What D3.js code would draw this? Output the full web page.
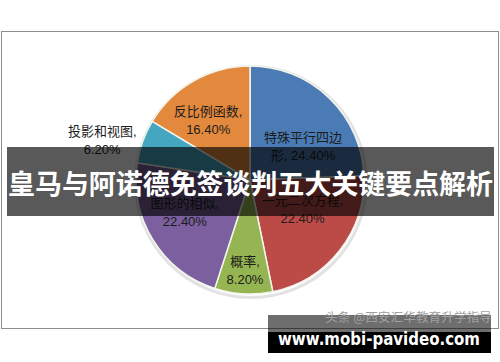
<!DOCTYPE html>
<html>
<head>
<meta charset="utf-8">
<script src="https://cdn.jsdelivr.net/npm/d3@7"></script>
<style>
  html, body { margin: 0; padding: 0; background: #fff; }
  svg { display: block; }
</style>
</head>
<body>
<svg id="chart"></svg>
<script>
;(() => {
  const categories = ["特殊平行四边形", "一元二次方程", "概率", "图形的相似", "投影和视图", "反比例函数"]
  const shares = [24.4, 22.4, 8.2, 22.4, 6.2, 16.4]
  const colors = ["#4a7bb4", "#bc4b48", "#95b552", "#7c5f9e", "#45a6c2", "#e3893d"]
  // label text split as Excel wrapped it
  const labelLines = [
    ["特殊平行四边", "形, 24.40%"],
    ["一元二次方程,", "22.40%"],
    ["概率,", "8.20%"],
    ["图形的相似,", "22.40%"],
    ["投影和视图,", "6.20%"],
    ["反比例函数,", "16.40%"],
  ]
  const title = "皇马与阿诺德免签谈判五大关键要点解析"
  const watermark = "头条 @西安汇华教育升学指导"
  const site = "www.mobi-pavideo.com"

  const W = 500, H = 362
  const cx = 250, cy = 180, R = 114

  const svg = d3.select("#chart").attr("width", W).attr("height", H)

  // chart frame
  svg.append("rect")
    .attr("x", 1.5).attr("y", 31.5)
    .attr("width", 497).attr("height", 297)
    .attr("fill", "#fff")
    .attr("stroke", "#8e8e8e")

  const pie = d3.pie().sort(null).value((d) => d)
  const arcs = pie(shares)
  const arc = d3.arc().innerRadius(0).outerRadius(R)
  const labelArc = d3.arc().innerRadius(R * 0.62).outerRadius(R * 0.62)
  const outerArc = d3.arc().innerRadius(R * 1.35).outerRadius(R * 1.35)

  const g = svg.append("g").attr("transform", "translate(" + cx + "," + cy + ")")

  // soft shadow round the pie
  g.append("circle")
    .attr("cx", 1).attr("cy", 2)
    .attr("r", R + 1.5)
    .attr("fill", "none")
    .attr("stroke", "#e2e2e2")
    .attr("stroke-width", 3)

  g.selectAll("path")
    .data(arcs)
    .enter()
    .append("path")
    .attr("d", arc)
    .attr("fill", (d, i) => colors[i])
    .attr("stroke", "#f4f4ee")
    .attr("stroke-width", 1.5)

  // small nudges so labels sit where Excel's best-fit put them
  const nudge = [[4, 17], [-3, -14], [-1, 20], [-5, -5], [-3, 13], [-7, 2]]

  const labels = g.selectAll(".lbl")
    .data(arcs)
    .enter()
    .append("text")
    .attr("class", "lbl")
    .attr("font-family", "'Liberation Sans', 'Noto Sans CJK SC', sans-serif")
    .attr("font-size", 13)
    .attr("fill", "#1b1b1b")
    .attr("text-anchor", "middle")
    .attr("transform", (d, i) => {
      const p = shares[i] < 7 ? outerArc.centroid(d) : labelArc.centroid(d)
      return "translate(" + (p[0] + nudge[i][0]) + "," + (p[1] + nudge[i][1]) + ")"
    })

  labels.each(function (d, i) {
    const t = d3.select(this)
    labelLines[i].forEach((line, k) => {
      t.append("tspan")
        .attr("x", 0)
        .attr("y", (k - 0.5) * 18 + 4.5)
        .text(line)
    })
  })

  // title banner
  svg.append("rect")
    .attr("x", 7).attr("y", 147)
    .attr("width", 487).attr("height", 69)
    .attr("fill", "rgba(0,0,0,0.65)")

  svg.append("text")
    .attr("x", 250.5).attr("y", 194)
    .attr("text-anchor", "middle")
    .attr("font-family", "'Noto Sans CJK SC', sans-serif")
    .attr("font-weight", "bold")
    .attr("font-size", 27)
    .attr("fill", "#fff")
    .attr("textLength", 485)
    .attr("lengthAdjust", "spacingAndGlyphs")
    .text(title)

  // bottom site banner
  svg.append("rect")
    .attr("x", 268).attr("y", 315)
    .attr("width", 223).attr("height", 17)
    .attr("fill", "rgba(0,0,0,0.57)")
  svg.append("rect")
    .attr("x", 268).attr("y", 332)
    .attr("width", 223).attr("height", 21)
    .attr("fill", "#000")

  svg.append("text")
    .attr("x", 492).attr("y", 321.5)
    .attr("text-anchor", "end")
    .attr("font-family", "'Noto Sans CJK SC', sans-serif")
    .attr("font-size", 12.5)
    .attr("fill", "#a0a0a0")
    .attr("textLength", 167)
    .attr("lengthAdjust", "spacingAndGlyphs")
    .text(watermark)

  svg.append("text")
    .attr("x", 278).attr("y", 345)
    .attr("font-family", "'DejaVu Sans', sans-serif")
    .attr("font-weight", "bold")
    .attr("font-size", 17)
    .attr("fill", "#fff")
    .attr("textLength", 202)
    .attr("lengthAdjust", "spacingAndGlyphs")
    .text(site)
})()
</script>
</body>
</html>
